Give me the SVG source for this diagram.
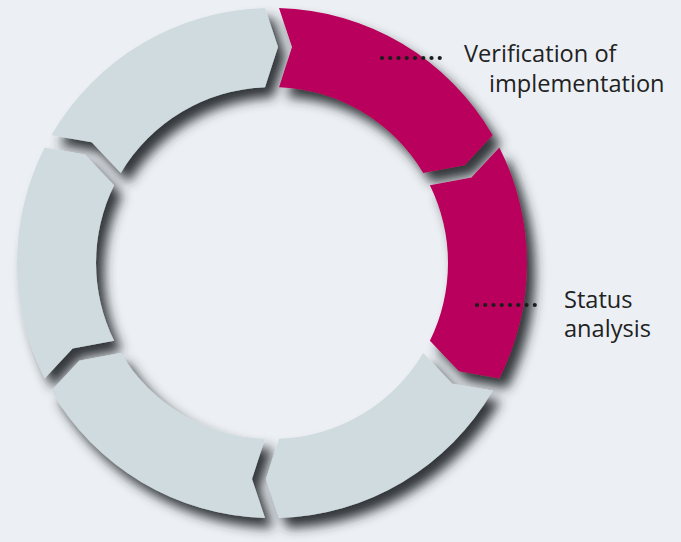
<svg xmlns="http://www.w3.org/2000/svg" width="681" height="542" viewBox="0 0 681 542">
  <defs>
    <filter id="sh" x="-10%" y="-10%" width="125%" height="125%">
      <feDropShadow dx="8" dy="10" stdDeviation="6" flood-color="#262c2d" flood-opacity="0.95"/>
    </filter>
    <style>
      .gray { fill: #d0dbe0; }
      .mag { fill: #b9005c; }
      .lbl { font-family: "Open Sans", "Noto Sans", "Liberation Sans", sans-serif; font-size: 23.6px; fill: #222; }
      .lead { stroke: #1c1c1c; stroke-width: 4.2; stroke-linecap: round; stroke-dasharray: 0 8.25; fill: none; }
    </style>
  </defs>
  <rect width="681" height="542" fill="#ecf0f4"/>
  <g id="ring" filter="url(#sh)">
    <g id="seg-top-left">
      <path class="gray" d="M51.33,135.22 A255,255 0 0 1 265,8.10 L278,47 L265,87.14 A176,176 0 0 0 120.79,172.94 L91.71,142.35 Z"/>
    </g>
    <g id="seg-verification">
      <path class="mag" d="M279,8.10 A255,255 0 0 1 492.67,135.22 L464.69,165.20 L423.21,172.94 A176,176 0 0 0 279,87.14 L292,47 Z"/>
    </g>
    <g id="seg-status">
      <path class="mag" d="M499.35,147.52 A255,255 0 0 1 499.35,378.48 L458.97,371.34 L429.89,340.76 A176,176 0 0 0 429.89,185.24 L471.37,177.51 Z"/>
    </g>
    <g id="seg-bottom-right">
      <path class="gray" d="M492.67,390.78 A255,255 0 0 1 279,517.90 L266,479 L279,438.86 A176,176 0 0 0 423.21,353.06 L452.29,383.65 Z"/>
    </g>
    <g id="seg-bottom-left">
      <path class="gray" d="M265,517.90 A255,255 0 0 1 51.33,390.78 L79.31,360.80 L120.79,353.06 A176,176 0 0 0 265,438.86 L252,479 Z"/>
    </g>
    <g id="seg-left">
      <path class="gray" d="M44.65,378.48 A255,255 0 0 1 44.65,147.52 L85.03,154.66 L114.11,185.24 A176,176 0 0 0 114.11,340.76 L72.63,348.49 Z"/>
    </g>
  </g>
  <g id="connectors">
    <line class="lead" x1="382" y1="58" x2="448" y2="58"/>
    <line class="lead" x1="477" y1="305" x2="543" y2="305"/>
  </g>
  <g id="label-verification">
    <text class="lbl" x="464" y="62">Verification of</text>
    <text class="lbl" x="489" y="92">implementation</text>
  </g>
  <g id="label-status">
    <text class="lbl" x="564" y="308">Status</text>
    <text class="lbl" x="564" y="337">analysis</text>
  </g>
</svg>
